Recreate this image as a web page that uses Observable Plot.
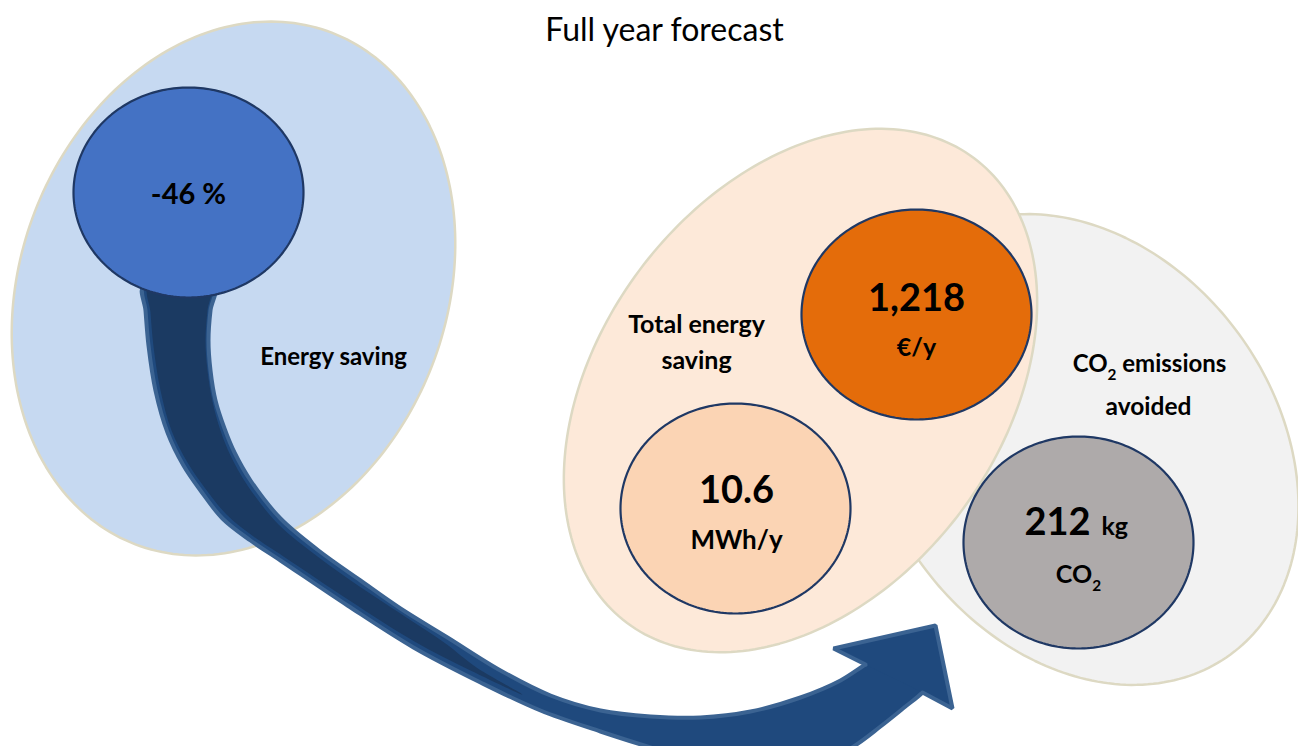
<!DOCTYPE html>
<html>
<head>
<meta charset="utf-8">
<script src="https://cdn.jsdelivr.net/npm/d3@7"></script>
<script src="https://cdn.jsdelivr.net/npm/@observablehq/plot@0.6"></script>
<style>
  html, body { margin: 0; padding: 0; background: #fff; overflow: hidden; }
</style>
</head>
<body>
<div id="chart"></div>
<script>
// ---- Figures shown on the infographic ----
const title = "Full year forecast";
const groupLabels = [["Energy saving"], ["Total energy", "saving"], ["CO₂ emissions", "avoided"]];
const energySavingPct = -46;          // %
const costSaving = 1218;              // €/y
const energySaved = 10.6;             // MWh/y
const co2Avoided = 212;               // kg CO2
const metricUnits = ["%", "€/y", "MWh/y", "kg", "CO₂"];

// ---- Layout (page pixels) ----
const W = 1298, H = 746;
const FONT = "Lato, 'Noto Sans', sans-serif";

// outer group ellipses: centre, semi-axes, rotation (deg, clockwise)
const groups = [
  {id: "energy", cx: 233, cy: 288, rx: 274, ry: 213, rot: -69,  fill: "#c6d9f1"},
  {id: "co2",    cx: 1080, cy: 449, rx: 254, ry: 196, rot: 53.8, fill: "#f2f2f2"},
  {id: "total",  cx: 800, cy: 390, rx: 290, ry: 201, rot: -53.3, fill: "#fde9d9"}
];
// value bubbles
const bubbles = [
  {id: "pct",  cx: 188,  cy: 192, rx: 115, ry: 105, fill: "#4472c4"},
  {id: "eur",  cx: 916,  cy: 314, rx: 115, ry: 105, fill: "#e46c0a"},
  {id: "mwh",  cx: 735,  cy: 508, rx: 115, ry: 105, fill: "#fbd4b4"},
  {id: "co2v", cx: 1078, cy: 542, rx: 115, ry: 106, fill: "#aeaaaa"}
];

// outline of a rotated ellipse as a closed ring of points
function ellipseRing(e, n = 240) {
  const t = (e.rot || 0) * Math.PI / 180;
  return d3.range(n).map(i => {
    const a = 2 * Math.PI * i / n;
    const ex = e.rx * Math.cos(a), ey = e.ry * Math.sin(a);
    return {x: e.cx + ex * Math.cos(t) - ey * Math.sin(t), y: e.cy + ex * Math.sin(t) + ey * Math.cos(t)};
  });
}

const pts = a => a.map(([x, y]) => ({x, y}));
// curved arrow body: outer edge down, lower edge to the head, a loop hidden
// under the head, then the inner edge back up to the bubble
const arrowBody = pts([
  [143,285],[145,310],[148,345],[155,390],[167,432],[183,465],[200,490],[222,518],[250,540],[280,560],[347,605],[413,647],[480,682],[540,710],[600,731],[650,747],[700,762],[760,772],[810,768],[850,748],[880,726],[905,706],[922,692],
  [935,676],[916,656],[886,652],
  [865,664],[840,680],[800,697],[750,711],[700,717],[650,716],[600,710],[550,695],[500,670],[447,637],[400,608],[360,580],[318,550],[280,518],[250,480],[234,452],[224,428],[215,400],[210,370],[208,340],[210,310],[214,285]
]);
// darker shading on the back part of the ribbon, tapering out along the lower edge
const arrowShade = pts([
  [148,285],[150,312],[153,346],[160,390],[171,430],[187,462],[204,487],[226,514],[253,536],[283,556],[349,600],[414,641],[470,670],[522,694],
  [476,667],[445,643],[400,613],[359,586],[317,556],[278,524],[247,485],[230,455],[220,430],[212,401],[207,370],[205,340],[207,310],[210,285]
]);
// arrow head (filled shape, and its outline without the base)
const arrowHead = pts([[865,664],[833,648],[935,625],[952,708],[922,692]]);

const groupMark = g => Plot.line(ellipseRing(g), {x: "x", y: "y", curve: "linear-closed", fill: g.fill, stroke: "#ddd9c3", strokeWidth: 2.5});
const bubbleMark = b => Plot.line(ellipseRing(b), {x: "x", y: "y", curve: "linear-closed", fill: b.fill, stroke: "#1f3864", strokeWidth: 2.2});

// text items: text, x, baseline y, size, weight, anchor
const fmt = d3.format(",");
const texts = [
  {t: title, x: 664, y: 40, s: 32, w: 400, a: "middle"},
  {t: `${energySavingPct} ${metricUnits[0]}`, x: 188, y: 203, s: 29, w: 700, a: "middle"},
  {t: groupLabels[0][0], x: 333, y: 364, s: 24, w: 700, a: "middle"},
  {t: groupLabels[1][0], x: 696, y: 332, s: 25, w: 700, a: "middle"},
  {t: groupLabels[1][1], x: 696, y: 368, s: 25, w: 700, a: "middle"},
  {t: fmt(costSaving), x: 916, y: 310, s: 38, w: 700, a: "middle"},
  {t: metricUnits[1], x: 916, y: 355, s: 25, w: 700, a: "middle"},
  {t: String(energySaved), x: 736, y: 502, s: 38, w: 700, a: "middle"},
  {t: metricUnits[2], x: 736, y: 548, s: 26, w: 700, a: "middle"},
  {t: groupLabels[2][0], x: 1149, y: 371, s: 24, w: 700, a: "middle"},
  {t: groupLabels[2][1], x: 1148, y: 414, s: 24.5, w: 700, a: "middle"},
  {t: String(co2Avoided), x: 1090, y: 534, s: 38, w: 700, a: "end"},
  {t: metricUnits[3], x: 1101, y: 534, s: 25, w: 700, a: "start"},
  {t: metricUnits[4], x: 1078, y: 582, s: 25, w: 700, a: "middle"}
];

const chart = Plot.plot({
  width: W,
  height: H,
  margin: 0,
  x: {domain: [0, W], range: [0, W], axis: null},
  y: {domain: [0, H], range: [0, H], axis: null},
  style: {fontFamily: FONT, background: "#fff", overflow: "hidden"},
  marks: [
    groupMark(groups[0]),
    Plot.line(arrowBody, {x: "x", y: "y", curve: "catmull-rom-closed", fill: "#1f497d", stroke: "#3b6392", strokeWidth: 4}),
    Plot.line(arrowShade, {x: "x", y: "y", curve: "catmull-rom-closed", fill: "#1b3a62"}),
    Plot.line(arrowHead, {x: "x", y: "y", curve: "linear-closed", fill: "#1f497d"}),
    Plot.line(arrowHead, {x: "x", y: "y", curve: "linear", stroke: "#3b6392", strokeWidth: 4, strokeLinejoin: "miter"}),
    bubbleMark(bubbles[0]),
    groupMark(groups[1]),
    groupMark(groups[2]),
    bubbleMark(bubbles[1]),
    bubbleMark(bubbles[2]),
    bubbleMark(bubbles[3]),
    ...texts.map(d => Plot.text([d], {
      x: "x", y: "y", text: "t",
      fontSize: d.s, fontWeight: d.w, textAnchor: d.a, lineAnchor: "bottom",
      fill: "#000", fontFamily: FONT
    }))
  ]
});

// typeset the chemical subscript in "CO₂" as a lowered, smaller 2
const NS = "http://www.w3.org/2000/svg";
chart.querySelectorAll("text").forEach(el => {
  const s = el.textContent;
  if (!s.includes("₂")) return;
  const size = parseFloat(el.getAttribute("font-size")) || 24;
  const drop = size * 0.36;
  const parts = s.split("₂");
  el.textContent = "";
  parts.forEach((p, i) => {
    if (i > 0) {
      const sub = document.createElementNS(NS, "tspan");
      sub.setAttribute("font-size", size * 0.64);
      sub.setAttribute("dy", drop);
      sub.textContent = "2";
      el.appendChild(sub);
    }
    if (p) {
      const run = document.createElementNS(NS, "tspan");
      if (i > 0) run.setAttribute("dy", -drop);
      run.textContent = p;
      el.appendChild(run);
    }
  });
});

document.getElementById("chart").appendChild(chart);
</script>
</body>
</html>
